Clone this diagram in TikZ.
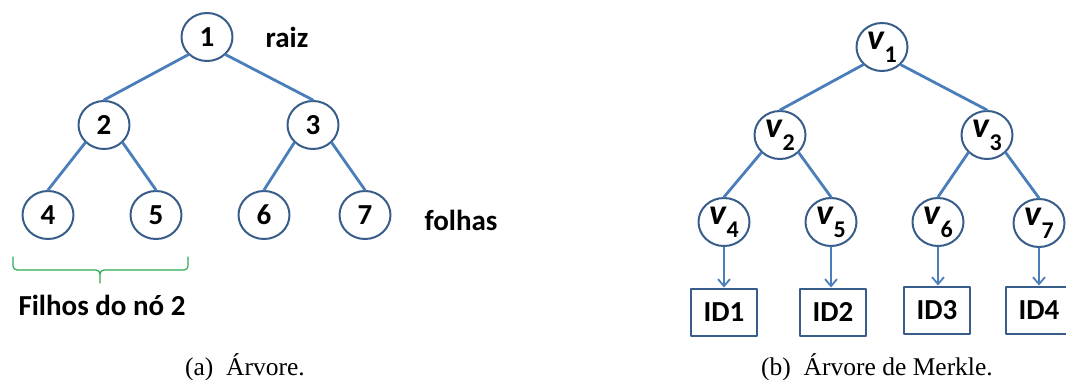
\documentclass[tikz,border=0pt]{standalone}
\usepackage{fontspec}
\setmainfont{Liberation Serif}
\newfontfamily\calibri{Carlito}
\usetikzlibrary{shapes.geometric,arrows.meta}
\definecolor{linkblue}{HTML}{4A7EBB}
\definecolor{ringblue}{HTML}{385D8A}
\definecolor{bracegreen}{HTML}{2EAA55}
\newcommand{\vsub}[1]{{\fontsize{36}{36}\selectfont\itshape v}\kern0.5pt\raisebox{-13pt}{\fontsize{24}{24}\selectfont #1}}
\begin{document}
\begin{tikzpicture}[x=1pt,y=-1pt,line join=round,line cap=round,
	vert/.style={ellipse,draw=ringblue,line width=2pt,minimum width=51pt,minimum height=48pt,inner sep=0pt,font=\calibri\bfseries\fontsize{29}{29}\selectfont},
	hashbox/.style={rectangle,draw=ringblue,line width=2pt,line cap=butt,minimum width=66pt,minimum height=47pt,inner sep=0pt,font=\calibri\bfseries\fontsize{29}{29}\selectfont},
	link/.style={linkblue,line width=2.8pt},
	hasharrow/.style={linkblue,line width=1.8pt,-{Straight Barb[length=7pt,width=12pt]}},
	word/.style={anchor=base,font=\calibri\bfseries\fontsize{29}{35}\selectfont},
	caption/.style={anchor=base,font=\fontsize{25.5}{30}\selectfont}]
	\useasboundingbox (0,0) rectangle (1066,380);
	% arvore binaria
	\foreach \n/\x/\y in {1/207/37,2/104/125,3/313/125,4/48/215,5/156/215,6/264/215,7/365/215}
		\node[vert] (n\n) at (\x,\y) {\n};
	\foreach \a/\b in {1/2,2/4,3/6} \draw[link] (n\a.south west) -- (n\b.north);
	\foreach \a/\b in {1/3,2/5,3/7} \draw[link] (n\a.south east) -- (n\b.north);
	\node[word] (root) at (287,47) {raiz};
	\node[word] (leaves) at (461,230) {folhas};
	\draw[bracegreen,line width=1.2pt,rounded corners=4pt] (13,257) |- (100,270) -- (100,283) (188,257) |- (100,270) -- (100,283);
	\node[word] (kids) at (102,315) {Filhos do nó 2};
	\node[caption] (capa) at (245,375) {(a)\enspace Árvore.};
	% arvore de Merkle
	\foreach \n/\x/\y in {1/882/47,2/780/135,3/987/135,4/724/222,5/831/222,6/938/222,7/1039/223}
		\node[vert] (v\n) at (\x,\y) {\vsub{\n}};
	\foreach \a/\b in {1/2,2/4,3/6} \draw[link] (v\a.south west) -- (v\b.north);
	\foreach \a/\b in {1/3,2/5,3/7} \draw[link] (v\a.south east) -- (v\b.north);
	\foreach \k/\n/\x/\y in {1/4/724/312,2/5/833/312,3/6/937/310,4/7/1039/310} {
		\node[hashbox] (id\k) at (\x,\y) {ID\k};
		\draw[hasharrow] (v\n.south) -- (v\n.south |- id\k.north);
	}
	\node[caption] (capb) at (877,375) {(b)\enspace Árvore de Merkle.};
\end{tikzpicture}
\end{document}
